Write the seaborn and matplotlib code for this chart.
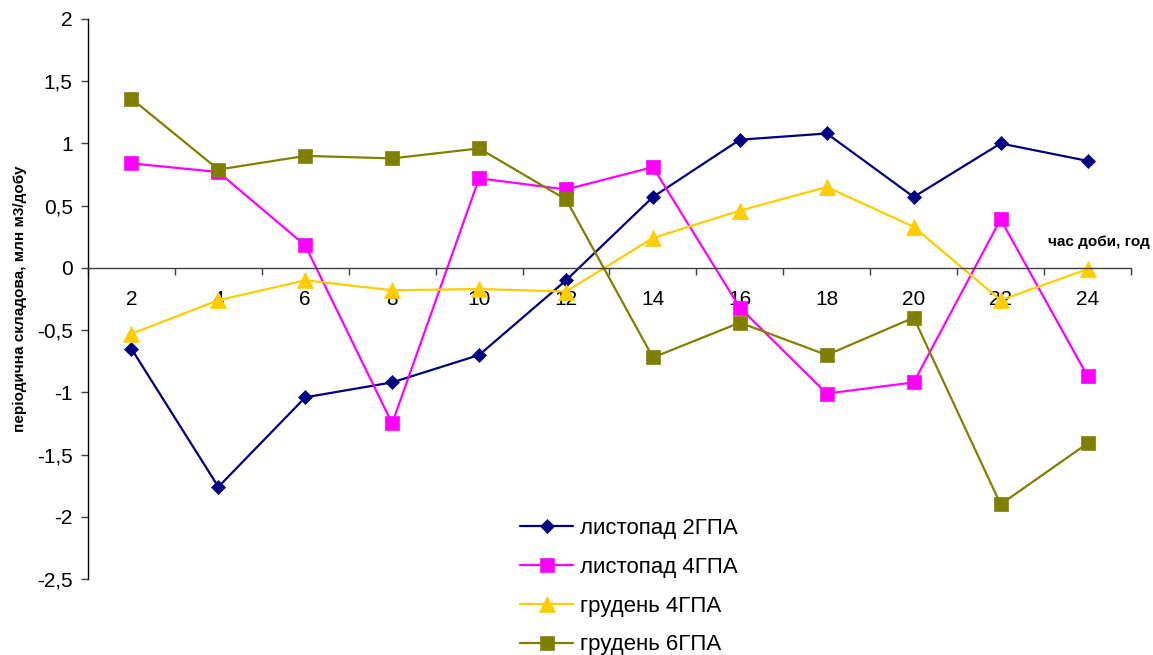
import numpy as np
import pandas as pd
import matplotlib
matplotlib.use("Agg")
import matplotlib.pyplot as plt
from matplotlib.ticker import FixedLocator, FuncFormatter
import seaborn as sns

# Hours of the day (every second hour)
hours = [2, 4, 6, 8, 10, 12, 14, 16, 18, 20, 22, 24]

# Periodic component of gas flow, mln m3/day
nov_2gpa = [-0.65, -1.76, -1.04, -0.92, -0.70, -0.10, 0.57, 1.03, 1.08, 0.57, 1.00, 0.86]
nov_4gpa = [0.84, 0.77, 0.18, -1.25, 0.72, 0.63, 0.81, -0.32, -1.01, -0.92, 0.39, -0.87]
dec_4gpa = [-0.53, -0.26, -0.10, -0.18, -0.17, -0.19, 0.24, 0.46, 0.65, 0.33, -0.26, -0.01]
dec_6gpa = [1.36, 0.79, 0.90, 0.88, 0.96, 0.55, -0.72, -0.44, -0.70, -0.40, -1.90, -1.41]

series_names = ["листопад 2ГПА", "листопад 4ГПА", "грудень 4ГПА", "грудень 6ГПА"]
series_values = [nov_2gpa, nov_4gpa, dec_4gpa, dec_6gpa]
colors = ["#000080", "#FF00FF", "#FFCC00", "#808000"]
markers = ["D", "s", "^", "s"]
msizes = [7.5, 10.5, 11, 10.5]

df = pd.DataFrame({
    "hour": np.tile(hours, len(series_names)),
    "value": np.concatenate(series_values),
    "series": np.repeat(series_names, len(hours)),
})

sns.set_theme(style="white")
plt.rcParams["font.family"] = ["Liberation Sans", "DejaVu Sans"]
plt.rcParams["text.color"] = "black"
plt.rcParams["axes.labelcolor"] = "black"
plt.rcParams["xtick.labelcolor"] = "black"
plt.rcParams["ytick.labelcolor"] = "black"

fig = plt.figure(figsize=(11.53, 6.55), dpi=100)
ax = fig.add_axes([88 / 1153, 1 - 579 / 655, (1131 - 88) / 1153, (579 - 19) / 655])

for name, col, mk, ms in zip(series_names, colors, markers, msizes):
    sub = df[df["series"] == name]
    sns.lineplot(data=sub, x="hour", y="value", ax=ax, color=col, marker=mk,
                 markersize=ms, markeredgecolor=col, markeredgewidth=0.5,
                 linewidth=1.6, label=name, sort=False)

ax.set_xlim(1, 25)
ax.set_ylim(-2.5, 2)

# y axis
ax.set_yticks(np.arange(-2.5, 2.01, 0.5))
ax.yaxis.set_major_formatter(FuncFormatter(lambda v, p: f"{v:g}".replace(".", ",")))
ax.tick_params(axis="y", which="major", direction="out", length=5, width=1,
               color="#404040", labelcolor="black", labelsize=15, pad=6, left=True)

# x axis drawn along zero
ax.spines["bottom"].set_position(("data", 0))
ax.spines["bottom"].set_color("#404040")
ax.spines["bottom"].set_linewidth(1)
ax.spines["left"].set_color("black")
ax.spines["left"].set_linewidth(1)
ax.spines["top"].set_visible(False)
ax.spines["right"].set_visible(False)

ax.xaxis.set_major_locator(FixedLocator(np.arange(1, 25.1, 2)))
ax.xaxis.set_major_formatter(FuncFormatter(lambda v, p: ""))
ax.xaxis.set_minor_locator(FixedLocator(hours))
ax.xaxis.set_minor_formatter(FuncFormatter(lambda v, p: f"{int(round(v))}"))
ax.tick_params(axis="x", which="major", direction="out", length=5, width=1,
               color="#404040", bottom=True)
ax.tick_params(axis="x", which="minor", length=0, labelsize=15, labelcolor="black",
               pad=16, bottom=True)

ax.set_xlabel("")
ax.set_ylabel("періодична складова, млн м3/добу", fontsize=11, fontweight="bold",
              color="black", labelpad=7)
ax.grid(False)

fig.text(1150 / 1153, 1 - 242 / 655, "час доби, год", ha="right", va="center",
         fontsize=11, fontweight="bold", color="black")

leg = ax.legend(loc="upper left", bbox_to_anchor=(520 / 1153, 1 - 518 / 655),
                bbox_transform=fig.transFigure, frameon=False, fontsize=16,
                handlelength=2.4, handletextpad=0.3, labelspacing=0.8,
                borderaxespad=0, borderpad=0)
for t in leg.get_texts():
    t.set_color("black")

fig.savefig("out.png", dpi=100, facecolor="white")
